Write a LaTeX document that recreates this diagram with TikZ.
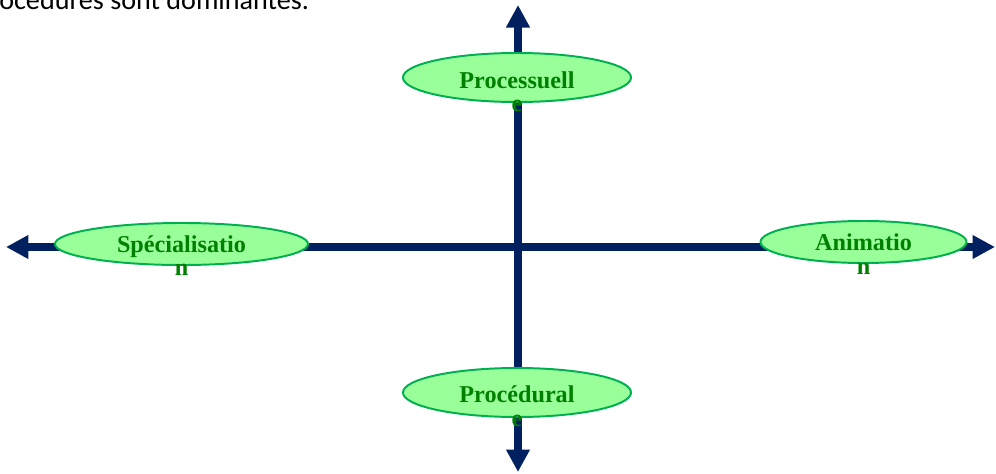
\documentclass[tikz,border=0pt]{standalone}
\usepackage{fontspec}
\setmainfont{Liberation Serif}
\newfontfamily\bodyfont{Carlito}
\usetikzlibrary{arrows.meta,shapes.geometric,positioning,calc}
\definecolor{axisblue}{RGB}{0,32,96}
\definecolor{bubblefill}{RGB}{153,255,153}
\definecolor{bubbleline}{RGB}{0,176,80}
\definecolor{taggreen}{RGB}{0,128,0}

\begin{document}
\begin{tikzpicture}[x=0.025cm,y=-0.025cm,
    axis/.style={draw=axisblue,line width=5.7pt,{Triangle[length=16pt,width=16pt]}-{Triangle[length=16pt,width=16pt]}},
    bubble/.style={ellipse,draw=bubbleline,fill=bubblefill,line width=1.4pt,inner sep=0pt},
    tag/.style={text=taggreen,font=\fontsize{17.2}{16.6}\selectfont\bfseries,align=center,inner sep=0pt,anchor=north}]

    \useasboundingbox (0,0) rectangle (996,474);

    \node (intro) [anchor=base west,inner sep=0pt,font=\bodyfont\fontsize{20}{24}\selectfont] at (-1,9) {océdures sont dominantes.};

    % the two axes
    \coordinate (west)  at (6,247);
    \coordinate (east)  at (995,247);
    \coordinate (north) at (518,5);
    \coordinate (south) at (518,472);
    \draw [axis] (west) -- (east);
    \draw [axis] (north) -- (south);

    % the four poles
    \node (processuelle)   [bubble,minimum width=5.7cm,minimum height=1.225cm] at (517,77.5) {};
    \node (procedurale)    [bubble,minimum width=5.7cm,minimum height=1.225cm] at (517,392.5) {};
    \node (specialisation) [bubble,minimum width=6.325cm,minimum height=1.05cm] at (181.5,244) {};
    \node (animation)      [bubble,minimum width=5.15cm,minimum height=1.05cm] at (863.5,242) {};

    \node (processuelle-tag)   [tag] at ($(processuelle)+(0,-6.5)$) {Processuell\\e};
    \node (procedurale-tag)    [tag] at ($(procedurale)+(0,-6.8)$) {Procédural\\e};
    \node (specialisation-tag) [tag] at ($(specialisation)+(0,-8.5)$) {Spécialisatio\\n};
    \node (animation-tag)      [tag] at ($(animation)+(0,-8.3)$) {Animatio\\n};

\end{tikzpicture}
\end{document}
